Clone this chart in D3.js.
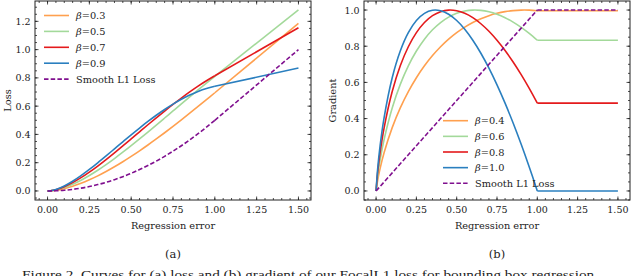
<!DOCTYPE html>
<html>
<head>
<meta charset="utf-8">
<script src="https://cdn.jsdelivr.net/npm/d3@7"></script>
<style>
  body { margin: 0; background: #fff; }
  svg text { font-family: "DejaVu Serif", serif; }
</style>
</head>
<body>
<svg id="chart" width="640" height="276"></svg>
<script>
// shared regression-error grid for the curved part (0..1)
var xs = [0, 0.01, 0.025, 0.05, 0.1, 0.15, 0.2, 0.25, 0.3, 0.35, 0.4, 0.45, 0.5,
  0.55, 0.6, 0.65, 0.7, 0.75, 0.8, 0.85, 0.9, 0.95, 1.0];
var xTail = 1.5;

// (a) loss values, last value is at x = 1.5
var loss03 = [0, 0.0003, 0.0014, 0.0048, 0.0163, 0.0330, 0.0540, 0.0788, 0.1067, 0.1375, 0.1709, 0.2066, 0.2444,
  0.2839, 0.3251, 0.3678, 0.4117, 0.4568, 0.5029, 0.5499, 0.5976, 0.6459, 0.6948, 1.1857];
var loss05 = [0, 0.0004, 0.0021, 0.0071, 0.0238, 0.0473, 0.0762, 0.1096, 0.1466, 0.1867, 0.2294, 0.2741, 0.3205,
  0.3682, 0.4169, 0.4663, 0.5161, 0.5661, 0.6160, 0.6656, 0.7148, 0.7632, 0.8108, 1.2819];
var loss07 = [0, 0.0005, 0.0027, 0.0092, 0.0301, 0.0589, 0.0939, 0.1334, 0.1764, 0.2222, 0.2699, 0.3189, 0.3686,
  0.4186, 0.4684, 0.5175, 0.5656, 0.6124, 0.6575, 0.7006, 0.7414, 0.7796, 0.8150, 1.1544];
var loss09 = [0, 0.0006, 0.0033, 0.0110, 0.0356, 0.0689, 0.1084, 0.1523, 0.1992, 0.2480, 0.2978, 0.3477, 0.3971,
  0.4452, 0.4915, 0.5355, 0.5766, 0.6145, 0.6486, 0.6786, 0.7042, 0.7249, 0.7405, 0.8694];
var lossSmooth = [0, 0.00005, 0.0003, 0.0013, 0.005, 0.0113, 0.02, 0.0313, 0.045, 0.0613, 0.08, 0.1013, 0.125,
  0.1513, 0.18, 0.2113, 0.245, 0.2813, 0.32, 0.3613, 0.405, 0.4513, 0.5, 1.0];

// (b) gradient values, last value is at x = 1.5
var grad04 = [0, 0.0600, 0.1252, 0.2127, 0.3500, 0.4589, 0.5492, 0.6259, 0.6916, 0.7482, 0.7970, 0.8390, 0.8750,
  0.9055, 0.9310, 0.9520, 0.9689, 0.9818, 0.9911, 0.9970, 0.9998, 0.9995, 0.9963, 0.9963];
var grad06 = [0, 0.0834, 0.1712, 0.2860, 0.4589, 0.5891, 0.6916, 0.7735, 0.8390, 0.8909, 0.9310, 0.9610, 0.9818,
  0.9945, 0.9998, 0.9982, 0.9904, 0.9768, 0.9577, 0.9335, 0.9045, 0.8710, 0.8331, 0.8331];
var grad08 = [0, 0.1050, 0.2127, 0.3500, 0.5493, 0.6916, 0.7970, 0.8750, 0.9310, 0.9689, 0.9911, 0.9998, 0.9963,
  0.9819, 0.9577, 0.9243, 0.8826, 0.8331, 0.7764, 0.7129, 0.6429, 0.5669, 0.4853, 0.4853];
var grad10 = [0, 0.1252, 0.2507, 0.4072, 0.6259, 0.7735, 0.8750, 0.9421, 0.9818, 0.9988, 0.9963, 0.9768, 0.9421,
  0.8938, 0.8331, 0.7611, 0.6787, 0.5865, 0.4852, 0.3755, 0.2578, 0.1325, 0, 0];
var gradSmooth = [0, 0.01, 0.025, 0.05, 0.1, 0.15, 0.2, 0.25, 0.3, 0.35, 0.4, 0.45, 0.5,
  0.55, 0.6, 0.65, 0.7, 0.75, 0.8, 0.85, 0.9, 0.95, 1.0, 1.0];

var lossNames = ["0.3", "0.5", "0.7", "0.9"];
var gradNames = ["0.4", "0.6", "0.8", "1.0"];
var xTicks = [0, 0.25, 0.5, 0.75, 1.0, 1.25, 1.5];
var lossTicks = [0, 0.2, 0.4, 0.6, 0.8, 1.0, 1.2];
var gradTicks = [0, 0.2, 0.4, 0.6, 0.8, 1.0];

var colors = ["#ffa04f", "#a3d99a", "#e41a1c", "#2a7fbf"];
var smoothColor = "#80108f";

var svg = d3.select("#chart");

function drawPanel(p) {
  var x = d3.scaleLinear().domain([-0.075, 1.575]).range([p.left, p.right]);
  var y = d3.scaleLinear().domain(p.yDomain).range([p.bottom, p.top]);
  var g = svg.append("g");

  g.append("clipPath").attr("id", p.id + "clip")
    .append("rect").attr("x", p.left).attr("y", p.top)
    .attr("width", p.right - p.left).attr("height", p.bottom - p.top);

  var plot = g.append("g").attr("clip-path", "url(#" + p.id + "clip)");
  var curve = d3.line().x(function (d) { return x(d[0]); }).y(function (d) { return y(d[1]); })
    .curve(d3.curveCatmullRom.alpha(0.5));
  var straight = d3.line().x(function (d) { return x(d[0]); }).y(function (d) { return y(d[1]); });

  p.series.forEach(function (s) {
    var pts = xs.map(function (v, i) { return [v, s.values[i]]; });
    var tail = [[1.0, s.values[xs.length - 1]], [xTail, s.values[xs.length]]];
    var path = s.straight ? straight : curve;
    [pts, tail].forEach(function (part, k) {
      plot.append("path")
        .attr("d", (k == 0 ? path : straight)(part))
        .attr("fill", "none")
        .attr("stroke", s.color)
        .attr("stroke-width", 1.6)
        .attr("stroke-dasharray", s.dashed ? "4.5,2.2" : null);
    });
  });

  // frame
  g.append("rect").attr("x", p.left).attr("y", p.top)
    .attr("width", p.right - p.left).attr("height", p.bottom - p.top)
    .attr("fill", "none").attr("stroke", "#222").attr("stroke-width", 1);

  // inward ticks on all four sides
  var xMinor = d3.range(-0.05, 1.56, 0.05);
  var yMinor = d3.range(p.yDomain[0] + 0.014, p.yDomain[1], 0.05).map(function (v) { return Math.round(v * 20) / 20; });
  var tk = g.append("g").attr("stroke", "#222").attr("stroke-width", 0.8);
  function xTick(v, len) {
    tk.append("line").attr("x1", x(v)).attr("x2", x(v)).attr("y1", p.bottom).attr("y2", p.bottom - len);
    tk.append("line").attr("x1", x(v)).attr("x2", x(v)).attr("y1", p.top).attr("y2", p.top + len);
  }
  function yTick(v, len) {
    tk.append("line").attr("y1", y(v)).attr("y2", y(v)).attr("x1", p.left).attr("x2", p.left + len);
    tk.append("line").attr("y1", y(v)).attr("y2", y(v)).attr("x1", p.right).attr("x2", p.right - len);
  }
  xMinor.forEach(function (v) { xTick(v, 2); });
  xTicks.forEach(function (v) { xTick(v, 3.5); });
  yMinor.forEach(function (v) { yTick(v, 2); });
  p.yTicks.forEach(function (v) { yTick(v, 3.5); });

  var f2 = d3.format(".2f"), f1 = d3.format(".1f");
  g.selectAll(".xl").data(xTicks).enter().append("text")
    .attr("x", function (d) { return x(d); }).attr("y", p.bottom + 13)
    .attr("text-anchor", "middle").attr("font-size", 9.5).attr("fill", "#222")
    .text(function (d) { return f2(d); });
  g.selectAll(".yl").data(p.yTicks).enter().append("text")
    .attr("x", p.left - 4.5).attr("y", function (d) { return y(d) + 3.5; })
    .attr("text-anchor", "end").attr("font-size", 9.5).attr("fill", "#222")
    .text(function (d) { return f1(d); });

  g.append("text").attr("x", (p.left + p.right) / 2).attr("y", p.bottom + 29)
    .attr("text-anchor", "middle").attr("font-size", 9.8).attr("fill", "#222").text("Regression error");
  g.append("text").attr("transform", "translate(" + p.yLabelX + "," + ((p.top + p.bottom) / 2) + ") rotate(-90)")
    .attr("text-anchor", "middle").attr("font-size", 9.8).attr("fill", "#222").text(p.yLabel);
  g.append("text").attr("x", (p.left + p.right) / 2).attr("y", 257.5)
    .attr("text-anchor", "middle").attr("font-size", 11.5).attr("fill", "#222").text(p.tag);

  // legend
  var lg = g.append("g");
  p.series.forEach(function (s, i) {
    var ly = p.legY + i * p.legStep;
    lg.append("line").attr("x1", p.legX).attr("x2", p.legX + 25).attr("y1", ly).attr("y2", ly)
      .attr("stroke", s.color).attr("stroke-width", 1.6)
      .attr("stroke-dasharray", s.dashed ? "4.5,2.2" : null);
    var t = lg.append("text").attr("x", p.legX + 32).attr("y", ly + 3.5)
      .attr("font-size", 9.8).attr("fill", "#222");
    if (s.beta) {
      t.append("tspan").attr("font-style", "italic").text("β");
      t.append("tspan").text("=" + s.beta);
    } else {
      t.text(s.label);
    }
  });
}

drawPanel({
  id: "a", left: 35, right: 311, top: 1, bottom: 200,
  yDomain: [-0.064, 1.344], yTicks: lossTicks, yLabel: "Loss", yLabelX: 11, tag: "(a)",
  legX: 44, legY: 15.5, legStep: 15.9,
  series: [
    { values: loss03, color: colors[0], beta: lossNames[0] },
    { values: loss05, color: colors[1], beta: lossNames[1] },
    { values: loss07, color: colors[2], beta: lossNames[2] },
    { values: loss09, color: colors[3], beta: lossNames[3] },
    { values: lossSmooth, color: smoothColor, dashed: true, label: "Smooth L1 Loss" }
  ]
});

drawPanel({
  id: "b", left: 364, right: 630, top: 1, bottom: 200,
  yDomain: [-0.05, 1.05], yTicks: gradTicks, yLabel: "Gradient", yLabelX: 336, tag: "(b)",
  legX: 443, legY: 120.7, legStep: 15.65,
  series: [
    { values: grad04, color: colors[0], beta: gradNames[0] },
    { values: grad06, color: colors[1], beta: gradNames[1] },
    { values: grad08, color: colors[2], beta: gradNames[2] },
    { values: grad10, color: colors[3], beta: gradNames[3] },
    { values: gradSmooth, color: smoothColor, dashed: true, straight: true, label: "Smooth L1 Loss" }
  ]
});

svg.append("text").attr("x", 22).attr("y", 279).attr("font-size", 12.5).attr("fill", "#222")
  .style("font-family", "'Liberation Serif', serif")
  .attr("textLength", 576).attr("lengthAdjust", "spacingAndGlyphs")
  .text("Figure 2. Curves for (a) loss and (b) gradient of our FocalL1 loss for bounding box regression.");
</script>
</body>
</html>
